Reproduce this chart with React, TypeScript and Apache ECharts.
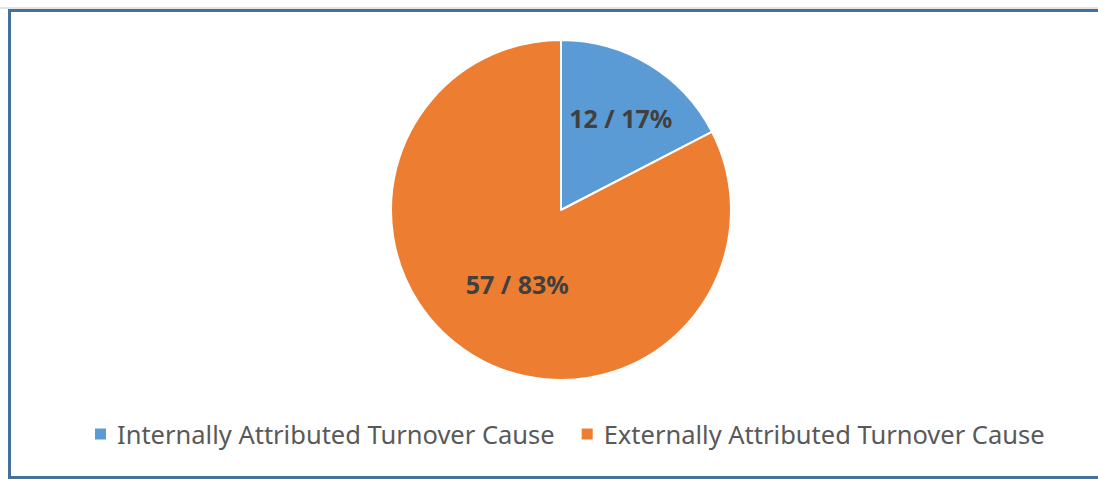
import React, { useEffect, useRef } from "react";
import * as echarts from "echarts";

const categories = ["Internally Attributed Turnover Cause", "Externally Attributed Turnover Cause"];
const counts = [12, 57];
const percentLabels = ["17%", "83%"];
const colors = ["#5B9BD5", "#ED7D31"];

export default function App() {
  const ref = useRef<HTMLDivElement>(null);
  useEffect(() => {
    if (!ref.current) return;
    const chart = echarts.init(ref.current, undefined, { renderer: "svg" });
    const labelOffsets = [[14, -17], [2, -1]];
    chart.setOption({
      animation: false,
      backgroundColor: "#ffffff",
      graphic: [
        { type: "line", shape: { x1: 0, y1: 8, x2: 1098, y2: 8 }, style: { stroke: "#e3e3e3", lineWidth: 2 } },
        { type: "rect", shape: { x: 9.5, y: 10.5, width: 1200, height: 467 }, style: { fill: "none", stroke: "#41719C", lineWidth: 3 } },
      ],
      legend: {
        top: 421,
        left: 93,
        padding: 0,
        itemWidth: 13,
        itemHeight: 13,
        itemGap: 25,
        icon: "rect",
        textStyle: { fontFamily: "Noto Sans", fontSize: 25.5, color: "#595959", padding: [0, 0, 0, 5] },
        data: categories,
      },
      series: [
        {
          type: "pie",
          center: [561, 210],
          radius: [0, 170],
          startAngle: 90,
          clockwise: true,
          itemStyle: { borderColor: "#ffffff", borderWidth: 2 },
          label: {
            show: true,
            position: "inside",
            fontFamily: "Noto Sans",
            fontWeight: "bold",
            fontSize: 25,
            color: "#404040",
          },
          labelLine: { show: false },
          data: categories.map((name, i) => ({
            name,
            value: counts[i],
            itemStyle: { color: colors[i] },
            label: { formatter: `${counts[i]} / ${percentLabels[i]}`, offset: labelOffsets[i] },
          })),
        },
      ],
    });
    return () => chart.dispose();
  }, []);
  return <div ref={ref} style={{ position: "absolute", left: 0, top: 0, width: 1098, height: 479 }} />;
}
